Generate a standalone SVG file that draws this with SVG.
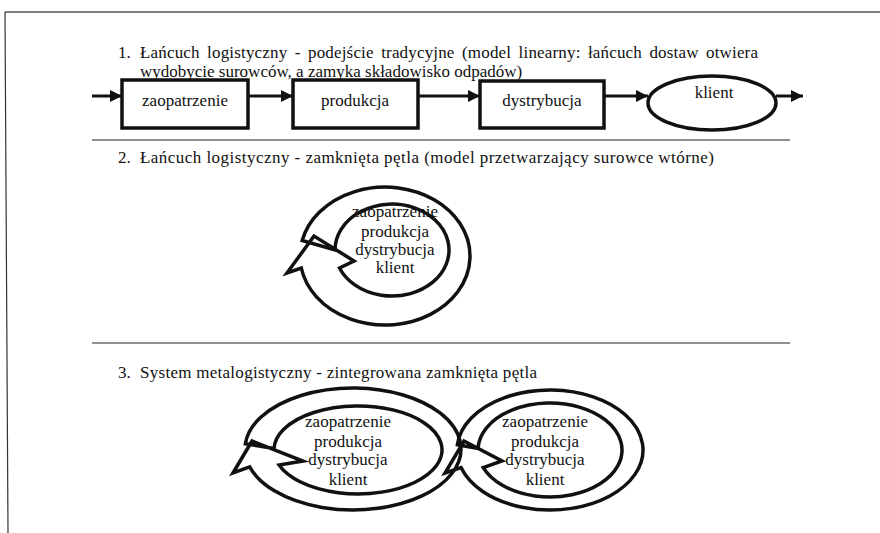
<svg xmlns="http://www.w3.org/2000/svg" width="880" height="533" viewBox="0 0 880 533">
<defs>
<style>
text{font-family:"Liberation Serif","Times New Roman",serif;font-size:17px;fill:#111}
.c{text-anchor:middle}
.box{fill:#fff;stroke:#111;stroke-width:3.5}
.loop{fill:none;stroke:#111;stroke-width:3.5;stroke-linejoin:miter}
.ln{stroke:#111;stroke-width:3;fill:none}
.sep{stroke:#222;stroke-width:1}
</style>
<marker id="ah" viewBox="0 0 12 12" refX="12" refY="6" markerWidth="12" markerHeight="12" markerUnits="userSpaceOnUse" orient="auto">
<path d="M0,0 L12,6 L0,12 Z" fill="#111"/>
</marker>
</defs>
<rect width="880" height="533" fill="#fff"/>
<line x1="5" y1="12" x2="880" y2="12" stroke="#808080" stroke-width="2"/>
<line x1="5" y1="12" x2="8" y2="533" stroke="#333" stroke-width="1.2"/>

<g id="title1">
<text x="118" y="58">1.</text>
<text x="140" y="58" textLength="618" lengthAdjust="spacing" word-spacing="3">Łańcuch logistyczny - podejście tradycyjne (model linearny: łańcuch dostaw otwiera</text>
<text x="140" y="77">wydobycie surowców, a zamyka składowisko odpadów)</text>
</g>

<g id="connectors">
<line class="ln" x1="92" y1="96" x2="122" y2="96" marker-end="url(#ah)"/>
<line class="ln" x1="248" y1="96" x2="293" y2="96" marker-end="url(#ah)"/>
<line class="ln" x1="418" y1="96" x2="480" y2="96" marker-end="url(#ah)"/>
<line class="ln" x1="604" y1="96" x2="648" y2="96" marker-end="url(#ah)"/>
<line class="ln" x1="776" y1="96" x2="803" y2="96" marker-end="url(#ah)"/>
</g>

<g id="zaopatrzenie">
<rect class="box" x="122" y="80" width="126" height="48"/>
<text class="c" x="185" y="106">zaopatrzenie</text>
</g>
<g id="produkcja">
<rect class="box" x="293" y="80" width="125" height="48"/>
<text class="c" x="355" y="106">produkcja</text>
</g>
<g id="dystrybucja">
<rect class="box" x="480" y="81" width="124" height="47"/>
<text class="c" x="542" y="106">dystrybucja</text>
</g>
<g id="klient">
<ellipse class="box" cx="712" cy="103" rx="64" ry="27"/>
<text class="c" x="714" y="98">klient</text>
</g>

<line class="sep" x1="92" y1="140" x2="790" y2="140"/>

<g id="title2">
<text x="118" y="163">2.</text>
<text x="140" y="163" textLength="574" lengthAdjust="spacing">Łańcuch logistyczny - zamknięta pętla (model przetwarzający surowce wtórne)</text>
</g>

<g id="loop2">
<path class="loop" d="M302.2,240.5 A85 69 0 1 1 301.3,268 L287,273 L314,236 L354,261 L339.5,268 A57 46 0 1 0 335,250 Z"/>
<text class="c" x="395" y="217">zaopatrzenie</text>
<text class="c" x="395" y="237">produkcja</text>
<text class="c" x="395" y="255">dystrybucja</text>
<text class="c" x="395" y="273">klient</text>
</g>

<line class="sep" x1="92" y1="343" x2="790" y2="343"/>

<g id="title3">
<text x="118" y="378">3.</text>
<text x="140" y="378" textLength="397" lengthAdjust="spacing">System metalogistyczny - zintegrowana zamknięta pętla</text>
</g>

<g id="loop3a">
<path class="loop" d="M245.4,443.7 A108 61 0 1 1 249.7,466.8 L233,473 L252,441 L303,461 L279.1,465 A84 44 0 1 0 274.05,448.5 Z"/>
<text class="c" x="348" y="427">zaopatrzenie</text>
<text class="c" x="348" y="447">produkcja</text>
<text class="c" x="348" y="465">dystrybucja</text>
<text class="c" x="348" y="485">klient</text>
</g>

<g id="loop3b">
<path class="loop" d="M457.35,444.77 A93 60 0 1 1 461.06,467.54 L445,473 L464,441 L502,461 L483.24,467.61 A72 47 0 1 0 478.04,448.36 Z"/>
<text class="c" x="545" y="427">zaopatrzenie</text>
<text class="c" x="545" y="447">produkcja</text>
<text class="c" x="545" y="465">dystrybucja</text>
<text class="c" x="545" y="485">klient</text>
</g>
</svg>
